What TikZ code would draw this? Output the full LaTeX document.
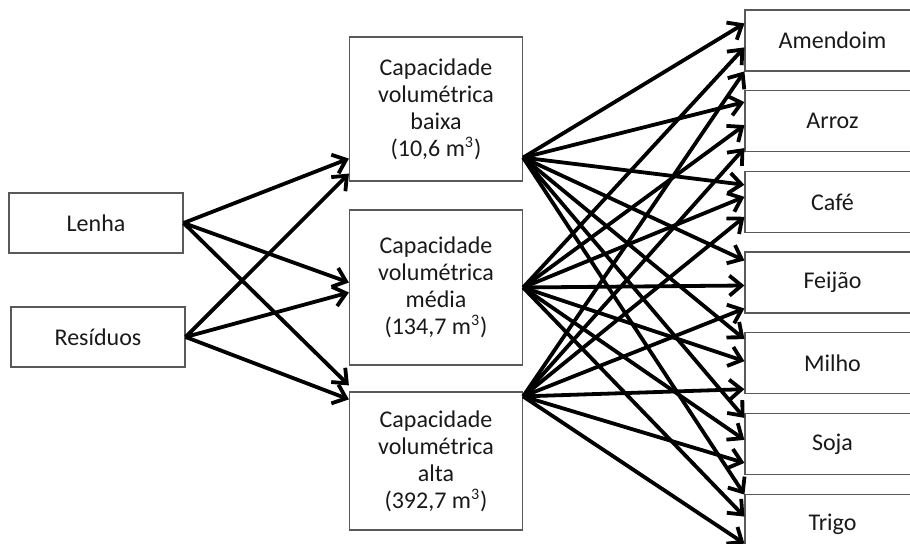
\documentclass[tikz,border=0pt]{standalone}
\usepackage{fontspec}
\setmainfont{Carlito}
\usepackage{tikz}
\usetikzlibrary{calc,arrows.meta,positioning}
\tikzset{
  fonte/.style={ % box of an energy source
    draw=black!65, line width=0.6pt, rectangle,
    minimum width=87pt, minimum height=30pt,
    text=black!90, font=\fontsize{12}{13.5}\selectfont
  },
  capacidade/.style={ % box of a dryer capacity
    draw=black!65, line width=0.6pt, rectangle,
    minimum width=86.5pt, inner sep=0pt, align=center,
    text=black!90, font=\fontsize{12}{13.5}\selectfont
  },
  cultura/.style={ % box of a crop, cut by the right margin
    draw=black!65, line width=0.6pt, rectangle,
    minimum width=105pt, minimum height=30.5pt,
    execute at end node={\hspace*{17.5pt}},
    text=black!90, font=\fontsize{12}{13.5}\selectfont
  },
  seta/.style={
    -{Straight Barb[length=6pt,width=10pt]}, line width=1.9pt, black
  }
}
\begin{document}
\begin{tikzpicture}[x=0.5pt,y=-0.5pt]
  \useasboundingbox (0,0) rectangle (910,544);
  \clip (0,0) rectangle (910,544);

  \node[fonte] (lenha) at (96,223) {Lenha};
  \node[fonte] (residuos) at (98,337) {Resíduos};

  \node[capacidade, minimum height=72pt] (baixa) at (436,109)
    {Capacidade\\volumétrica\\baixa\\(10,6 m\textsuperscript{3})};
  \node[capacidade, minimum height=77.5pt] (media) at (436,287.5)
    {Capacidade\\volumétrica\\média\\(134,7 m\textsuperscript{3})};
  \node[capacidade, minimum height=69pt] (alta) at (436,461)
    {Capacidade\\volumétrica\\alta\\(392,7 m\textsuperscript{3})};

  \node[cultura] (amendoim) at (850,40.5) {Amendoim};
  \node[cultura, below=9.25pt of amendoim] (arroz) {Arroz};
  \node[cultura, below=9.25pt of arroz] (cafe) {Café};
  \node[cultura, below=9.25pt of cafe] (feijao) {Feijão};
  \node[cultura, below=9.25pt of feijao] (milho) {Milho};
  \node[cultura, below=9.25pt of milho] (soja) {Soja};
  \node[cultura, below=9.25pt of soja] (trigo) {Trigo};

  % where the arrows leave the capacity boxes
  \coordinate (b0) at ($(baixa.south east)+(0,-24)$);
  \coordinate (m0) at (media.east);
  \coordinate (a0) at ($(alta.north east)+(0,5)$);

  % sources -> capacities
  \draw[seta] (lenha.east) -- ($(baixa.south west)+(0,-23)$);
  \draw[seta] (residuos.east) -- ($(baixa.south west)+(0,-8)$);
  \draw[seta] (lenha.east) -- ($(media.west)+(0,-5)$);
  \draw[seta] (residuos.east) -- ($(media.west)+(0,5)$);
  \draw[seta] (lenha.east) -- ($(alta.north west)+(0,-6)$);
  \draw[seta] (residuos.east) -- ($(alta.north west)+(0,8)$);

  % capacities -> crops
  \draw[seta] (b0) -- ($(amendoim.north west)+(0,14)$);
  \draw[seta] (m0) -- ($(amendoim.north west)+(0,38)$);
  \draw[seta] (a0) -- ($(amendoim.north west)+(0,62)$);
  \draw[seta] (b0) -- ($(arroz.north west)+(0,12)$);
  \draw[seta] (m0) -- ($(arroz.north west)+(0,35)$);
  \draw[seta] (a0) -- ($(arroz.north west)+(0,58)$);
  \draw[seta] (b0) -- ($(cafe.north west)+(0,14)$);
  \draw[seta] (m0) -- ($(cafe.north west)+(0,26)$);
  \draw[seta] (a0) -- ($(cafe.north west)+(0,46)$);
  \draw[seta] (b0) -- ($(feijao.north west)+(0,9)$);
  \draw[seta] (m0) -- ($(feijao.north west)+(0,34)$);
  \draw[seta] (a0) -- ($(feijao.north west)+(0,57)$);
  \draw[seta] (b0) -- ($(milho.north west)+(0,7)$);
  \draw[seta] (m0) -- ($(milho.north west)+(0,29)$);
  \draw[seta] (a0) -- ($(milho.north west)+(0,57)$);
  \draw[seta] (b0) -- ($(soja.north west)+(0,5)$);
  \draw[seta] (m0) -- ($(soja.north west)+(0,27)$);
  \draw[seta] (a0) -- ($(soja.north west)+(0,50)$);
  \draw[seta] (b0) -- ($(trigo.north west)+(0,1)$);
  \draw[seta] (m0) -- ($(trigo.north west)+(0,23)$);
  \draw[seta] (a0) -- ($(trigo.north west)+(0,50)$);
\end{tikzpicture}
\end{document}
